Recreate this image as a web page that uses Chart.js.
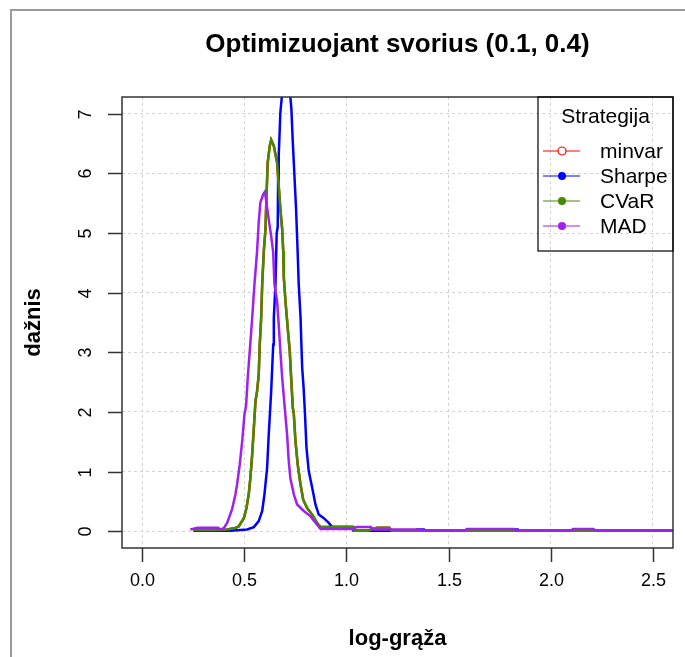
<!DOCTYPE html>
<html>
<head>
<meta charset="utf-8">
<script src="https://cdn.jsdelivr.net/npm/chart.js@4.4.1/dist/chart.umd.min.js"></script>
<style>
  body { margin: 0; background: #fff; }
  #wrap { width: 685px; height: 657px; }
</style>
</head>
<body>
<div id="wrap"><canvas id="densChart" width="685" height="657"></canvas></div>
<script>
// tick positions
const xTicks = [0, 0.5, 1.0, 1.5, 2.0, 2.5];
const yTicks = [0, 1, 2, 3, 4, 5, 6, 7];

// minvar (almost identical to CVaR)
const minvarX = [0.25, 0.38, 0.415, 0.45, 0.472, 0.497, 0.510, 0.521, 0.529, 0.538, 0.546, 0.554, 0.562, 0.570, 0.575, 0.582, 0.587, 0.595, 0.603, 0.608, 0.614, 0.624, 0.631, 0.644, 0.660, 0.668, 0.676, 0.685, 0.690, 0.693, 0.701, 0.712, 0.722, 0.729, 0.737, 0.742, 0.750, 0.761, 0.775, 0.788, 0.807, 0.832, 0.856, 0.873, 1.035, 1.04, 1.11, 1.12, 1.15, 1.21, 1.22, 2.62];
const minvarY = [0.02, 0.02, 0.03, 0.05, 0.08, 0.22, 0.39, 0.62, 0.89, 1.29, 1.73, 2.18, 2.35, 2.63, 3.13, 3.58, 4.14, 4.70, 5.06, 5.62, 6.18, 6.46, 6.56, 6.46, 6.18, 5.79, 5.40, 5.06, 4.70, 4.25, 3.86, 3.41, 3.02, 2.57, 2.07, 1.96, 1.51, 1.12, 0.78, 0.53, 0.39, 0.28, 0.14, 0.07, 0.07, 0.01, 0.01, 0.03, 0.06, 0.06, 0.01, 0.01];

// Sharpe
const sharpeX = [0.25, 0.431, 0.513, 0.546, 0.570, 0.587, 0.598, 0.611, 0.619, 0.627, 0.631, 0.636, 0.641, 0.644, 0.652, 0.658, 0.663, 0.665, 0.668, 0.673, 0.676, 0.685, 0.700, 0.722, 0.730, 0.737, 0.745, 0.753, 0.760, 0.766, 0.775, 0.779, 0.783, 0.790, 0.796, 0.804, 0.815, 0.832, 0.848, 0.864, 0.889, 0.913, 0.930, 1.028, 1.035, 1.34, 1.345, 1.38, 1.385, 1.80, 1.81, 1.84, 1.845, 2.62];
const sharpeY = [0.01, 0.01, 0.03, 0.07, 0.17, 0.34, 0.62, 1.06, 1.62, 2.10, 2.35, 2.74, 3.13, 3.58, 4.14, 5.00, 5.10, 5.90, 6.30, 6.74, 7.02, 7.35, 7.70, 7.40, 7.08, 6.52, 5.96, 5.40, 4.75, 4.14, 3.58, 3.13, 2.74, 2.40, 2.01, 1.40, 1.01, 0.73, 0.45, 0.28, 0.22, 0.14, 0.07, 0.07, 0.01, 0.01, 0.03, 0.03, 0.01, 0.01, 0.03, 0.03, 0.01, 0.01];

// CVaR
const cvarX = [0.25, 0.38, 0.415, 0.45, 0.472, 0.497, 0.510, 0.521, 0.529, 0.538, 0.546, 0.554, 0.562, 0.570, 0.575, 0.582, 0.587, 0.595, 0.603, 0.608, 0.614, 0.624, 0.631, 0.644, 0.660, 0.668, 0.676, 0.685, 0.690, 0.693, 0.701, 0.712, 0.722, 0.729, 0.737, 0.742, 0.750, 0.761, 0.775, 0.788, 0.807, 0.832, 0.856, 0.873, 1.035, 1.04, 1.11, 1.12, 1.15, 1.21, 1.22, 2.62];
const cvarY = [0.02, 0.02, 0.03, 0.05, 0.08, 0.22, 0.39, 0.62, 0.89, 1.29, 1.73, 2.18, 2.35, 2.63, 3.13, 3.58, 4.14, 4.70, 5.06, 5.62, 6.18, 6.46, 6.56, 6.46, 6.18, 5.79, 5.40, 5.06, 4.70, 4.25, 3.86, 3.41, 3.02, 2.57, 2.07, 1.96, 1.51, 1.12, 0.78, 0.53, 0.39, 0.28, 0.14, 0.07, 0.07, 0.01, 0.01, 0.03, 0.06, 0.06, 0.01, 0.01];

// MAD
const madX = [0.235, 0.27, 0.37, 0.385, 0.40, 0.415, 0.431, 0.44, 0.448, 0.456, 0.464, 0.477, 0.489, 0.500, 0.508, 0.516, 0.526, 0.538, 0.549, 0.562, 0.570, 0.578, 0.592, 0.600, 0.608, 0.619, 0.631, 0.641, 0.647, 0.660, 0.668, 0.676, 0.685, 0.696, 0.709, 0.717, 0.725, 0.742, 0.758, 0.791, 0.824, 0.856, 0.873, 1.03, 1.05, 1.12, 1.13, 1.36, 1.38, 1.58, 1.59, 1.82, 1.83, 2.10, 2.11, 2.21, 2.22, 2.62];
const madY = [0.03, 0.06, 0.06, 0.03, 0.06, 0.14, 0.29, 0.38, 0.50, 0.62, 0.79, 1.12, 1.51, 1.96, 2.10, 2.57, 3.02, 3.58, 4.14, 4.70, 5.18, 5.51, 5.65, 5.69, 5.51, 5.23, 4.95, 4.67, 4.14, 3.86, 3.47, 3.02, 2.57, 2.13, 1.62, 1.18, 0.89, 0.62, 0.45, 0.34, 0.25, 0.11, 0.04, 0.04, 0.07, 0.07, 0.03, 0.03, 0.01, 0.01, 0.04, 0.04, 0.01, 0.01, 0.04, 0.04, 0.01, 0.01];

function pts(xs, ys) {
    return xs.map((v, i) => ({ x: v, y: ys[i] }));
}

function series(label, xs, ys, color, order, open) {
    return {
        label: label,
        data: pts(xs, ys),
        borderColor: color,
        backgroundColor: color,
        borderWidth: 2.5,
        pointRadius: 0,
        tension: 0,
        order: order,
        openSymbol: open
    };
}

const font = '"Liberation Sans", Arial, sans-serif';

// R-like frame, box, ticks, titles and legend
const baseDecor = {
    id: 'baseDecor',
    beforeDraw(chart) {
        const ctx = chart.ctx;
        ctx.save();
        ctx.fillStyle = '#fff';
        ctx.fillRect(0, 0, chart.width, chart.height);
        ctx.strokeStyle = '#9a9a9a';
        ctx.lineWidth = 2;
        ctx.beginPath();
        ctx.moveTo(11, chart.height);
        ctx.lineTo(11, 10);
        ctx.lineTo(chart.width, 10);
        ctx.stroke();
        ctx.restore();
    },
    afterDraw(chart) {
        const { ctx, chartArea: a, scales } = chart;
        const x = scales.x, y = scales.y;
        ctx.save();

        // plot box
        ctx.strokeStyle = '#333';
        ctx.lineWidth = 1.5;
        ctx.strokeRect(a.left, a.top, a.right - a.left, a.bottom - a.top);

        // x ticks
        ctx.fillStyle = '#000';
        ctx.font = '18px ' + font;
        ctx.textAlign = 'center';
        ctx.textBaseline = 'middle';
        xTicks.forEach(t => {
            const px = Math.round(x.getPixelForValue(t)) + 0.5;
            ctx.beginPath();
            ctx.moveTo(px, a.bottom);
            ctx.lineTo(px, a.bottom + 14);
            ctx.stroke();
            ctx.fillText(t.toFixed(1), px, 581);
        });

        // y ticks (rotated labels like R)
        yTicks.forEach(t => {
            const py = Math.round(y.getPixelForValue(t)) + 0.5;
            ctx.beginPath();
            ctx.moveTo(a.left - 14, py);
            ctx.lineTo(a.left, py);
            ctx.stroke();
            ctx.save();
            ctx.translate(86, py);
            ctx.rotate(-Math.PI / 2);
            ctx.fillText(String(t), 0, 0);
            ctx.restore();
        });

        // titles
        ctx.font = 'bold 26px ' + font;
        ctx.fillText('Optimizuojant svorius (0.1, 0.4)', (a.left + a.right) / 2, 45);
        ctx.font = 'bold 22px ' + font;
        ctx.fillText('log-grąža', (a.left + a.right) / 2, 639);
        ctx.save();
        ctx.translate(34, (a.top + a.bottom) / 2);
        ctx.rotate(-Math.PI / 2);
        ctx.fillText('dažnis', 0, 0);
        ctx.restore();

        // legend
        const lx = 538, ly = a.top, lw = a.right - 538, lh = 154;
        ctx.lineWidth = 1.2;
        ctx.strokeStyle = '#000';
        ctx.strokeRect(lx, ly, lw, lh);
        ctx.font = '21px ' + font;
        ctx.fillText('Strategija', lx + lw / 2, ly + 20);
        ctx.textAlign = 'left';
        const rows = [151, 176, 201, 226];
        chart.data.datasets.forEach((ds, i) => {
            const ry = rows[i];
            ctx.strokeStyle = ds.borderColor;
            ctx.lineWidth = 1.2;
            ctx.beginPath();
            ctx.moveTo(543, ry);
            ctx.lineTo(580, ry);
            ctx.stroke();
            ctx.beginPath();
            ctx.arc(562, ry, 4, 0, Math.PI * 2);
            if (ds.openSymbol) {
                ctx.fillStyle = '#fff';
                ctx.fill();
                ctx.stroke();
            } else {
                ctx.fillStyle = ds.borderColor;
                ctx.fill();
            }
            ctx.fillStyle = '#000';
            ctx.fillText(ds.label, 600, ry + 1);
        });
        ctx.restore();
    }
};

const densChart = new Chart(document.getElementById('densChart'), {
    type: 'line',
    data: {
        datasets: [
            series('minvar', minvarX, minvarY, '#FF0000', 4, true),
            series('Sharpe', sharpeX, sharpeY, '#0000FF', 3, false),
            series('CVaR', cvarX, cvarY, '#458B00', 2, false),
            series('MAD', madX, madY, '#A020F0', 1, false)
        ]
    },
    options: {
        responsive: false,
        animation: false,
        layout: { padding: { left: 122, right: 12, top: 97, bottom: 109 } },
        plugins: {
            legend: { display: false },
            title: { display: false },
            tooltip: { enabled: false }
        },
        scales: {
            x: {
                type: 'linear',
                min: -0.1,
                max: 2.6,
                ticks: { display: false, stepSize: 0.5, includeBounds: false },
                grid: { color: '#d3d3d3', lineWidth: 1, drawTicks: false },
                border: { display: false, dash: [3, 3] }
            },
            y: {
                type: 'linear',
                min: -0.28,
                max: 7.28,
                ticks: { display: false, stepSize: 1, includeBounds: false },
                grid: { color: '#d3d3d3', lineWidth: 1, drawTicks: false },
                border: { display: false, dash: [3, 3] }
            }
        }
    },
    plugins: [baseDecor]
});
</script>
</body>
</html>
